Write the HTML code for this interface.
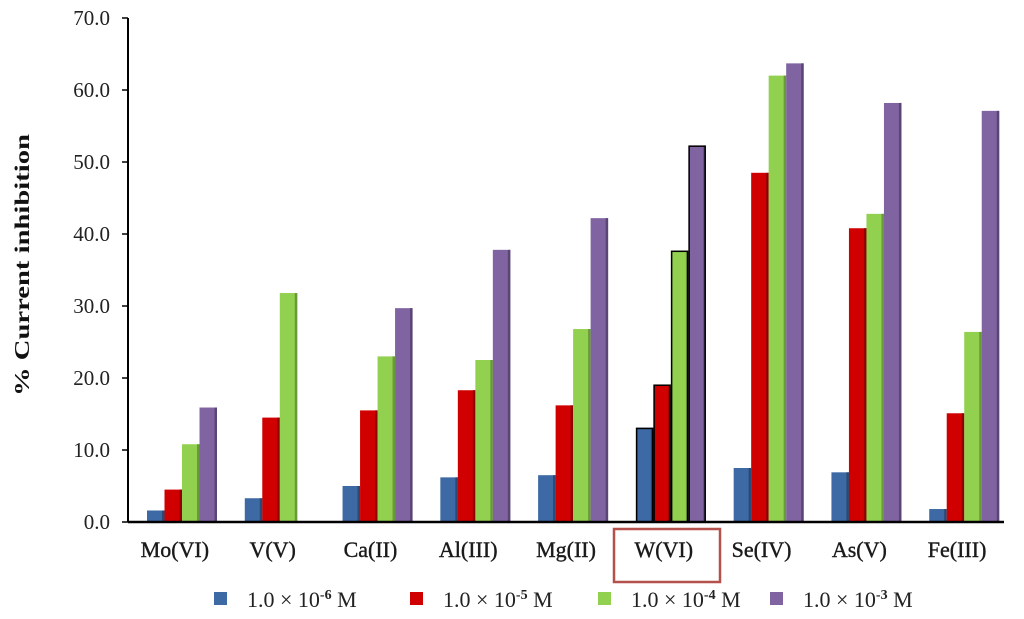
<!DOCTYPE html>
<html><head><meta charset="utf-8"><style>
body{margin:0;background:#fff;}
svg text{font-family:"Liberation Serif",serif;}
</style></head><body>
<svg id="chart" width="1024" height="614" xmlns="http://www.w3.org/2000/svg"></svg>
<script>
const categories=["Mo(VI)","V(V)","Ca(II)","Al(III)","Mg(II)","W(VI)","Se(IV)","As(V)","Fe(III)"];
const s1e6=[1.6,3.3,5.0,6.2,6.5,13.1,7.5,6.9,1.8];
const s1e5=[4.5,14.5,15.5,18.3,16.2,19.1,48.5,40.8,15.1];
const s1e4=[10.8,31.8,23.0,22.5,26.8,37.7,62.0,42.8,26.4];
const s1e3=[15.9,null,29.7,37.8,42.2,52.3,63.7,58.2,57.1];
const yTicks=[0,10,20,30,40,50,60,70];
const seriesExp=["-6","-5","-4","-3"];
const series=[s1e6,s1e5,s1e4,s1e3];
const colors=["#3d69a4","#d00000","#92d050","#8064a2"];
const shades=["#2a4a75","#900000","#6a9a38","#5a4675"];
const NS="http://www.w3.org/2000/svg";
const svg=document.getElementById("chart");
const x0=128,x1=1008,y0=522,yTop=18,yMax=70;
const cw=(x1-x0)/categories.length;
const bw=17.5;
function y(v){return y0-(v/yMax)*(y0-yTop);}
function xb(i,s){return x0+i*cw+19+s*bw;}
function el(t,a,p){const e=document.createElementNS(NS,t);for(const k in a)e.setAttribute(k,a[k]);(p||svg).appendChild(e);return e;}
const yt=el("text",{x:29,y:265,"font-size":21,"font-weight":"bold","text-anchor":"middle",textLength:262,lengthAdjust:"spacingAndGlyphs",transform:"rotate(-90 29 265)",fill:"#111"});
yt.textContent="% Current inhibition";


yTicks.forEach(t=>{
  const tk=el("line",{x1:122,x2:x0,y1:y(t),y2:y(t),stroke:"#000","stroke-width":1.5});
  
  
  const lb=el("text",{x:110,y:y(t)+7,"font-size":21,"text-anchor":"end",fill:"#222"});
  lb.textContent=t.toFixed(1);
  
  
});
series.forEach((arr,s)=>{
  arr.forEach((v,i)=>{
    if(v===null)return;
    const g=el("g",{});
    
    
    const xx=xb(i,s),yy=y(v);
    el("rect",{x:xx,y:yy,width:bw,height:y0-yy,fill:colors[s]},g);
    el("rect",{x:xx+bw-2.5,y:yy,width:2.5,height:y0-yy,fill:shades[s]},g);
    if(i===5)el("rect",{x:xx+0.75,y:yy+0.75,width:bw-1.5,height:y0-yy-0.75,fill:"none",stroke:"#000","stroke-width":1.5},g);
  });
});
const ax=el("line",{x1:x0,x2:x0,y1:yTop,y2:y0,stroke:"#000","stroke-width":2});


const bx=el("line",{x1:x0,x2:1004,y1:y0,y2:y0,stroke:"#000","stroke-width":2.5});


categories.forEach((c,i)=>{
  const t=el("text",{x:x0+i*cw+cw/2-2,y:557,"font-size":22,"text-anchor":"middle",fill:"#1a1a1a",stroke:"#1a1a1a","stroke-width":0.4});
  t.textContent=c;
  
  
});
const box=el("rect",{x:614,y:529,width:106,height:53,fill:"none",stroke:"#b5514d","stroke-width":2.5});


const lx=[214,410,598,770];
seriesExp.forEach((e,s)=>{
  const g=el("g",{});
  
  
  el("rect",{x:lx[s],y:592,width:13,height:13,fill:colors[s]},g);
  const t=el("text",{x:lx[s]+33,y:607,"font-size":22,fill:"#222"},g);
  t.innerHTML='1.0 × 10<tspan font-size="14" dy="-8" font-weight="bold">'+e+'</tspan><tspan dy="8"> M</tspan>';
});
</script>
</body></html>
